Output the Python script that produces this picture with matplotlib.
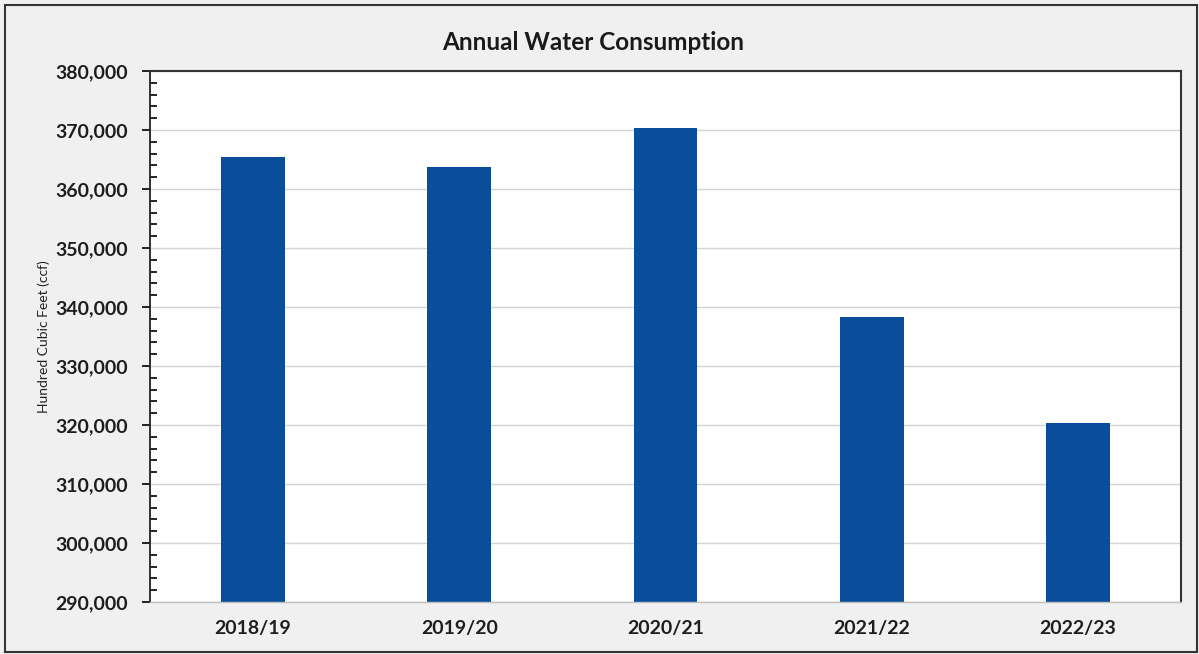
import matplotlib.pyplot as plt
from matplotlib.ticker import MultipleLocator, FuncFormatter
from matplotlib.patches import Rectangle

plt.rcParams['font.family'] = ['Lato', 'DejaVu Sans']

years = ['2018/19', '2019/20', '2020/21', '2021/22', '2022/23']
consumption = [365500, 363700, 370400, 338300, 320300]

fig = plt.figure(figsize=(11.99, 6.54), dpi=100, facecolor='#f0f0f0')
ax = fig.add_axes([150 / 1199, 1 - 602 / 654, 1031 / 1199, 531 / 654])
ax.set_facecolor('white')

ax.bar(range(len(years)), consumption, width=0.31, color='#0a4d9b', zorder=2)

ax.set_xlim(-0.5, len(years) - 0.5)
ax.set_ylim(290000, 380000)
ax.yaxis.set_major_locator(MultipleLocator(10000))
ax.yaxis.set_minor_locator(MultipleLocator(2000))
ax.yaxis.set_major_formatter(FuncFormatter(lambda v, p: f'{int(v):,}'))
ax.grid(axis='y', which='major', color='#d4d4d4', linewidth=1, zorder=0)

ax.set_xticks(range(len(years)))
ax.set_xticklabels(years, fontsize=14, fontweight='bold', color='#1e1e1e')
ax.tick_params(axis='x', length=0, pad=13)
ax.tick_params(axis='y', which='major', direction='out', length=6, width=1.2,
               labelsize=14, labelcolor='#1e1e1e', pad=10)
ax.tick_params(axis='y', which='minor', direction='in', length=5, width=1.2)
for lab in ax.get_yticklabels():
    lab.set_fontweight('bold')

ax.spines['left'].set_color('#222222')
ax.spines['left'].set_linewidth(1.3)
ax.spines['bottom'].set_color('#bfbfbf')
ax.spines['bottom'].set_linewidth(1)
for side in ('top', 'right'):
    ax.spines[side].set_color('#333333')
    ax.spines[side].set_linewidth(1.5)

ax.set_ylabel('Hundred Cubic Feet (ccf)', fontsize=10, color='#222222')
ax.yaxis.set_label_coords(-100 / 1031, 0.5)

fig.text(593 / 1199, 1 - 42 / 654, 'Annual Water Consumption', ha='center', va='center',
         fontsize=17.5, fontweight='bold', color='#1a1a1a')

# outer frame around the whole chart
fig.patches.append(Rectangle((5 / 1199, 2 / 654), 1192 / 1199, 647 / 654,
                             transform=fig.transFigure, fill=False,
                             edgecolor='#333333', linewidth=1.5))

fig.savefig('out.png', dpi=100, facecolor=fig.get_facecolor())
